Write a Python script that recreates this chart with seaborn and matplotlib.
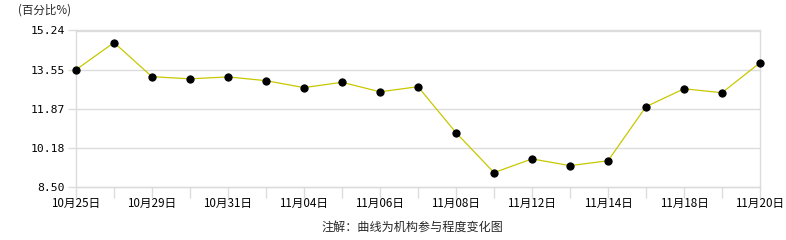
import matplotlib
matplotlib.use("Agg")
import matplotlib.pyplot as plt
import seaborn as sns
import pandas as pd

dates = ["10月25日", "10月28日", "10月29日", "10月30日", "10月31日", "11月01日",
         "11月04日", "11月05日", "11月06日", "11月07日", "11月08日", "11月11日",
         "11月12日", "11月13日", "11月14日", "11月15日", "11月18日", "11月19日",
         "11月20日"]
values = [13.55, 14.72, 13.25, 13.16, 13.24, 13.08, 12.78, 13.01, 12.60, 12.82,
          10.84, 9.12, 9.71, 9.42, 9.63, 11.96, 12.73, 12.56, 13.85]
y_ticks = [8.50, 10.18, 11.87, 13.55, 15.24]
y_unit = "(百分比%)"
caption = "注解：曲线为机构参与程度变化图"

sns.set_theme(style="white")
plt.rcParams['font.family'] = ['Noto Sans CJK SC', 'DejaVu Sans']

df = pd.DataFrame({"idx": range(len(dates)), "value": values})

fig = plt.figure(figsize=(7.86, 2.40), dpi=100)
ax = fig.add_axes([76/786, 1 - 187/240, (760-76)/786, (187-30.5)/240])

grid_c = "#dcdcdc"
sns.lineplot(data=df, x="idx", y="value", ax=ax, color="#c8c800", linewidth=0.9,
             marker="o", markersize=5.2, markerfacecolor="black",
             markeredgecolor="black", zorder=3, clip_on=False)

ax.set_xlim(0, len(dates) - 1)
ax.set_ylim(y_ticks[0], y_ticks[-1])
ax.set_yticks(y_ticks)
ax.set_yticklabels([f"{v:.2f}" for v in y_ticks], fontsize=8.2, color="black",
                   family=["DejaVu Sans Mono"])
ax.set_xticks(range(len(dates)))
ax.set_xticklabels([d if i % 2 == 0 else "" for i, d in enumerate(dates)],
                   fontsize=8.4, color="black")
ax.tick_params(axis="x", bottom=True, length=8, width=1, color=grid_c, pad=-1,
               direction="out")
ax.tick_params(axis="y", left=True, length=6, width=1, color=grid_c, pad=2)
ax.yaxis.grid(True, color=grid_c, linewidth=1)
for gl in ax.get_ygridlines():
    gl.set_clip_on(False)
ax.xaxis.grid(False)
ax.set_xlabel("")
ax.set_ylabel("")
for side in ["left", "right", "bottom", "top"]:
    ax.spines[side].set_color(grid_c)
    ax.spines[side].set_linewidth(1)

fig.text(18/786, 1 - 10/240, y_unit, fontsize=8.3, ha="left", va="center")
fig.text(412/786, 1 - 227/240, caption, fontsize=8.7, ha="center", va="center")

fig.savefig("out.png", dpi=100, facecolor="white")
